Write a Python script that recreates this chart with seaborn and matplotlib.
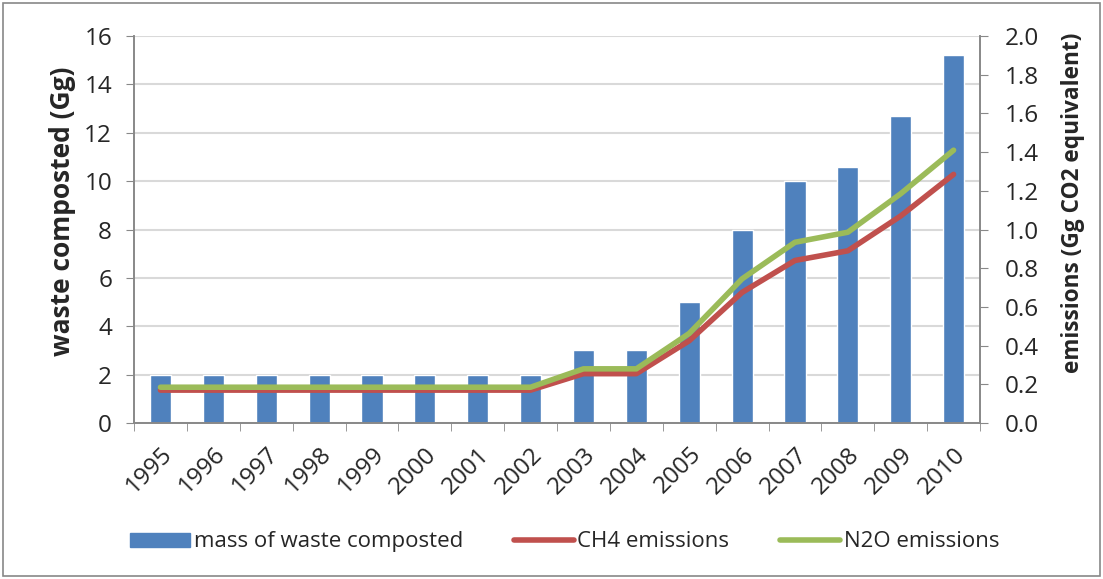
import numpy as np
import pandas as pd
import matplotlib
matplotlib.use("Agg")
import matplotlib.pyplot as plt
from matplotlib.patches import Rectangle
from matplotlib.lines import Line2D
from matplotlib.ticker import MultipleLocator, FixedLocator, FormatStrFormatter
import seaborn as sns

# ── data ────────────────────────────────────────────────────
years = [str(y) for y in range(1995, 2011)]
waste_composted = [2, 2, 2, 2, 2, 2, 2, 2, 3, 3, 5, 8, 10, 10.6, 12.7, 15.2]
ch4_emissions = [0.17, 0.17, 0.17, 0.17, 0.17, 0.17, 0.17, 0.17,
                 0.255, 0.255, 0.425, 0.675, 0.84, 0.89, 1.07, 1.285]
n2o_emissions = [0.185, 0.185, 0.185, 0.185, 0.185, 0.185, 0.185, 0.185,
                 0.28, 0.28, 0.463, 0.745, 0.934, 0.986, 1.185, 1.41]

BAR_COLOR = "#4F81BD"
CH4_COLOR = "#C0504D"
N2O_COLOR = "#9BBB59"
AXIS_GREY = "#888888"

sns.set_style("white")
plt.rcParams["font.family"] = ["Open Sans", "DejaVu Sans"]

df = pd.DataFrame({
    "year": years,
    "pos": np.arange(len(years)),
    "waste": waste_composted,
    "ch4": ch4_emissions,
    "n2o": n2o_emissions,
})

fig = plt.figure(figsize=(11.03, 5.79), dpi=100)
ax = fig.add_axes([0.1215, 0.2694, 0.767, 0.6684])

# ── bars (left axis) ────────────────────────────────────────
sns.barplot(data=df, x="year", y="waste", color=BAR_COLOR, width=0.4,
            saturation=1, ax=ax, zorder=2)
ax.set_ylim(0, 16)
ax.yaxis.set_major_locator(MultipleLocator(2))
ax.grid(axis="y", color="#D9D9D9", lw=1.5, zorder=0)
ax.set_axisbelow(True)
ax.set_xlim(-0.5, len(years) - 0.5)
ax.set_xlabel("")
ax.set_ylabel("waste composted (Gg)", fontsize=19, fontweight="bold")
ax.yaxis.set_label_coords(-0.0686, 0.548)
ax.tick_params(axis="y", labelsize=17.5, length=5.8, color=AXIS_GREY,
               direction="out", left=True, pad=10)
ax.tick_params(axis="x", labelsize=17.5, length=0, pad=14)
plt.setp(ax.get_xticklabels(), rotation=45, ha="right", rotation_mode="anchor")
ax.xaxis.set_minor_locator(FixedLocator(np.arange(len(years) + 1) - 0.5))
ax.tick_params(axis="x", which="minor", length=5.8, color=AXIS_GREY, bottom=True)

# ── emission lines (right axis) ─────────────────────────────
ax2 = ax.twinx()
sns.lineplot(data=df, x="pos", y="ch4", color=CH4_COLOR, lw=4, ax=ax2,
             solid_capstyle="round", solid_joinstyle="round")
sns.lineplot(data=df, x="pos", y="n2o", color=N2O_COLOR, lw=4, ax=ax2,
             solid_capstyle="round", solid_joinstyle="round")
ax2.set_ylim(0, 2.0)
ax2.yaxis.set_major_locator(MultipleLocator(0.2))
ax2.yaxis.set_major_formatter(FormatStrFormatter("%.1f"))
ax2.set_ylabel("emissions (Gg CO2 equivalent)", fontsize=16.3, fontweight="bold")
ax2.yaxis.set_label_coords(1.0957, 0.568)
ax2.tick_params(axis="y", labelsize=17.5, length=5.8, color=AXIS_GREY,
                direction="out", right=True, pad=12)
ax2.set_xlim(-0.5, len(years) - 0.5)

for a in (ax, ax2):
    a.spines["top"].set_visible(False)
    for side in ("left", "right", "bottom"):
        a.spines[side].set_color(AXIS_GREY)
        a.spines[side].set_linewidth(1.2)

# ── legend ──────────────────────────────────────────────────
handles = [
    Rectangle((0, 0), 1, 1, color=BAR_COLOR),
    Line2D([], [], color=CH4_COLOR, lw=4, solid_capstyle="round"),
    Line2D([], [], color=N2O_COLOR, lw=4, solid_capstyle="round"),
]
labels = ["mass of waste composted", "CH4 emissions", "N2O emissions"]
fig.legend(handles, labels, loc="center", bbox_to_anchor=(0.512, 0.064),
           ncol=3, frameon=False, fontsize=16, handlelength=2.7,
           handleheight=0.6, columnspacing=2.3, handletextpad=0.15,
           borderpad=0, borderaxespad=0)

# figure border
fig.patches.append(Rectangle((0.003, 0.005), 0.994, 0.99, transform=fig.transFigure,
                             fill=False, edgecolor=AXIS_GREY, lw=1.2))

fig.savefig("out.png", dpi=100)
